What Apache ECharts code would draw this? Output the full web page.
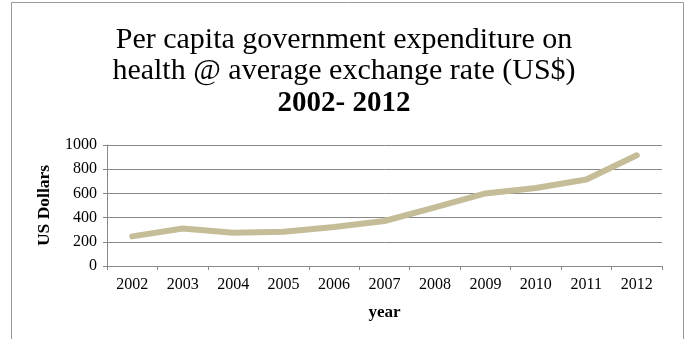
<!DOCTYPE html>
<html>
<head>
<meta charset="utf-8">
<script src="https://cdn.jsdelivr.net/npm/echarts@6/dist/echarts.min.js"></script>
<style>
  html, body { margin: 0; padding: 0; background: #fff; }
  #chart { width: 688px; height: 339px; }
</style>
</head>
<body>
<div id="chart"></div>
<script>
var years = ['2002', '2003', '2004', '2005', '2006', '2007', '2008', '2009', '2010', '2011', '2012'];
var spending = [245, 310, 275, 283, 322, 372, 485, 600, 645, 715, 915];
var yTicks = [0, 200, 400, 600, 800, 1000];

var serif = '"Liberation Serif", "DejaVu Serif", serif';

var chart = echarts.init(document.getElementById('chart'));
chart.setOption({
  animation: false,
  backgroundColor: '#fff',
  title: {
    text: 'Per capita government expenditure on\nhealth @ average exchange rate (US$)\n{b|2002- 2012}',
    left: 'center',
    top: 20,
    textStyle: {
      fontFamily: serif,
      fontSize: 30,
      fontWeight: 'normal',
      color: '#000',
      lineHeight: 31,
      rich: {
        b: { fontFamily: serif, fontSize: 29, fontWeight: 'bold', color: '#000', lineHeight: 34 }
      }
    }
  },
  graphic: [{
    type: 'rect',
    shape: { x: 11.5, y: 2.5, width: 672, height: 345 },
    style: { fill: 'none', stroke: '#999', lineWidth: 1 },
    silent: true
  }],
  grid: { left: 107, right: 26, top: 145, bottom: 73 },
  xAxis: {
    type: 'category',
    data: years,
    boundaryGap: true,
    name: 'year',
    nameLocation: 'middle',
    nameGap: 38,
    nameTextStyle: { fontFamily: serif, fontSize: 17, fontWeight: 'bold', color: '#000' },
    axisLine: { lineStyle: { color: '#888', width: 1 } },
    axisTick: { show: true, length: 4, inside: false, alignWithLabel: false, lineStyle: { color: '#888' } },
    axisLabel: { fontFamily: serif, fontSize: 16, color: '#000', margin: 11 }
  },
  yAxis: {
    type: 'value',
    min: yTicks[0],
    max: yTicks[yTicks.length - 1],
    interval: yTicks[1] - yTicks[0],
    name: 'US Dollars',
    nameLocation: 'middle',
    nameGap: 54,
    nameRotate: 90,
    nameTextStyle: { fontFamily: serif, fontSize: 17.5, fontWeight: 'bold', color: '#000' },
    axisLine: { show: true, lineStyle: { color: '#888', width: 1 } },
    axisTick: { show: true, length: 4, lineStyle: { color: '#888' } },
    axisLabel: {
      fontFamily: serif, fontSize: 16, color: '#000', margin: 10,
      formatter: function (v) { return String(v); }
    },
    splitLine: { lineStyle: { color: '#888', width: 1 } }
  },
  series: [{
    name: 'Per capita expenditure',
    type: 'line',
    data: spending,
    symbol: 'none',
    lineStyle: { color: '#C4BD97', width: 6, cap: 'round', join: 'round' }
  }]
});
</script>
</body>
</html>
